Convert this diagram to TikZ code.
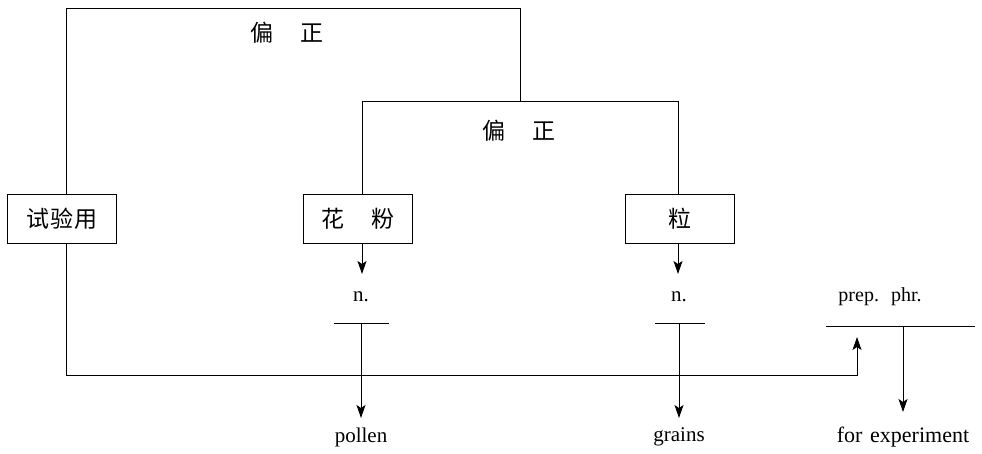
\documentclass[tikz,border=0pt]{standalone}
\usepackage{fontspec}
\setmainfont{Liberation Serif}
\newfontfamily\cjk{Noto Sans CJK SC}
\usetikzlibrary{arrows.meta}
\tikzset{
  ln/.style={line width=0.9pt,black},
  arr/.style={ln,-{Stealth[length=13pt,width=9pt,inset=3pt]}},
  box/.style={draw,line width=0.9pt,rectangle,minimum width=109pt,minimum height=49pt,inner sep=0pt,font=\cjk\fontsize{23}{23}\selectfont},
  zh/.style={inner sep=0pt,font=\cjk\fontsize{23}{23}\selectfont},
  en/.style={inner sep=0pt,font=\fontsize{21}{22}\selectfont}
}
\begin{document}
\begin{tikzpicture}[x=1pt,y=-1pt]
\useasboundingbox (0,0) rectangle (982,454);
% boxes
\node[box] (b1) at (62,219) {试\kern1pt 验\kern1pt 用};
\node[box] (b2) at (358,219) {花\hspace{1.15em}粉};
\node[box] (b3) at (680,219) {粒};
% bracket labels
\node[zh] (p1) at (287,33) {偏\hspace{1.2em}正};
\node[zh] (p2) at (519,131) {偏\hspace{1.2em}正};
% bracket corners
\coordinate (t1) at (66,8);
\coordinate (t2) at (520,8);
\coordinate (m1) at (362,101);
\coordinate (m2) at (678,101);
\draw[ln] (b1.north -| t1) -- (t1) -- (t2) -- (t2 |- m1);
\draw[ln] (b2.north -| m1) -- (m1) -- (m2) -- (b3.north -| m2);
% n. labels
\node[en] (n1) at (361,297) {n.};
\node[en] (n2) at (679,297) {n.};
\node[en,font=\fontsize{20}{21}\selectfont] (pp) at (880,297) {prep.\hspace{0.6em}phr.};
\coordinate (l1a) at (334,323); \coordinate (l1b) at (389,323);
\coordinate (l2a) at (655,323); \coordinate (l2b) at (705,323);
\coordinate (l3a) at (826,326); \coordinate (l3b) at (975,326);
\draw[ln] (l1a) -- (l1b);
\draw[ln] (l2a) -- (l2b);
\draw[ln] (l3a) -- (l3b);
% arrows from boxes
\draw[arr] (b2.south -| m1) -- (362,274);
\draw[arr] (b3.south -| m2) -- (678,274);
% bottom words
\node[en] (w1) at (361,437) {pollen};
\node[en] (w2) at (679,437) {grains};
\node[en,font=\fontsize{22}{23}\selectfont] (w3) at (903,437) {for\hspace{0.35em}experiment};
\coordinate (e1) at (361,418);
\coordinate (e2) at (679,418);
\coordinate (e3) at (903,412);
\draw[arr] (l1a -| e1) -- (e1);
\draw[arr] (l2a -| e2) -- (e2);
\draw[arr] (l3a -| e3) -- (e3);
% connector from 试验用 to prep. phr.
\coordinate (c1) at (66,375);
\coordinate (c2) at (857,375);
\coordinate (c3) at (857,337);
\draw[arr] (b1.south -| c1) -- (c1) -- (c2) -- (c3);
\end{tikzpicture}
\end{document}
